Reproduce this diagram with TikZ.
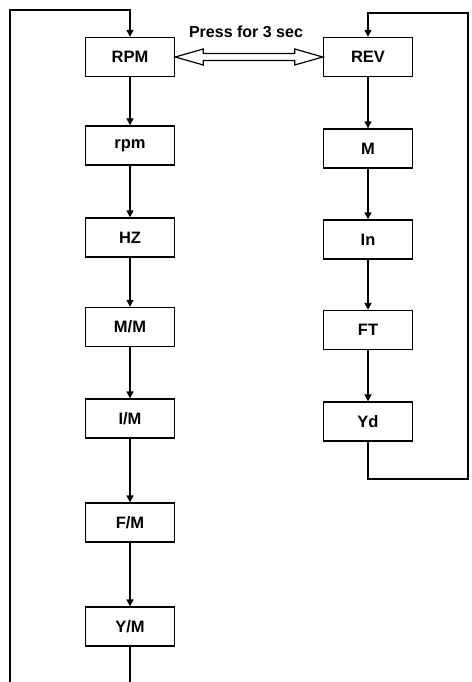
\documentclass[tikz,border=0pt]{standalone}
\usepackage{fontspec}
\setmainfont{Liberation Sans}
\usetikzlibrary{arrows.meta,calc}
\begin{document}
\begin{tikzpicture}[x=1pt,y=-1pt,
  box/.style={draw, line width=1.4pt, minimum width=89pt, minimum height=39pt, inner sep=0pt, font=\fontsize{16.5}{18}\selectfont\bfseries},
  flow/.style={line width=1.4pt, -{Triangle[length=7pt,width=7pt]}},
  plain/.style={line width=1.4pt}]
\useasboundingbox (0,0) rectangle (471,682);
% left column
\node[box] (RPM) at (130,57) {RPM};
\node[box] (rpm) at (130,145.5) {rpm};
\node[box] (HZ) at (130,237.5) {HZ};
\node[box] (MM) at (130,327) {M/M};
\node[box] (IM) at (130,418.5) {I/M};
\node[box] (FM) at (130,522.5) {F/M};
\node[box] (YM) at (130,626.5) {Y/M};
% right column
\node[box] (REV) at (368,57) {REV};
\node[box] (M) at (368,148.5) {M};
\node[box] (In) at (368,239.5) {In};
\node[box] (FT) at (368,330) {FT};
\node[box] (Yd) at (368,421.5) {Yd};
% label
\node[font=\fontsize{16}{18}\selectfont\bfseries] (lbl) at (246,32) {Press for 3 sec};
% left chain
\draw[flow] (RPM) -- (rpm);
\draw[flow] (rpm) -- (HZ);
\draw[flow] (HZ) -- (MM);
\draw[flow] (MM) -- (IM);
\draw[flow] (IM) -- (FM);
\draw[flow] (FM) -- (YM);
% right chain
\draw[flow] (REV) -- (M);
\draw[flow] (M) -- (In);
\draw[flow] (In) -- (FT);
\draw[flow] (FT) -- (Yd);
% left loop
\coordinate (lbot) at (130,683);
\coordinate (lleft) at (10,683);
\coordinate (ltop) at (10,10);
\draw[plain] (YM.south) -- (lbot);
\draw[flow] (lleft) -- (ltop) -| (RPM.north);
% right loop
\coordinate (rbr) at (468,479);
\coordinate (rtr) at (468,13);
\draw[flow] (Yd.south) |- (rbr) -- (rtr) -| (REV.north);
% hollow double arrow
\draw[line width=1.2pt, line join=miter] (RPM.east) -- ++(28,-8) -- ++(0,4.5) -- ($(REV.west)+(-28,-3.5)$) -- ++(0,-4.5) -- (REV.west) -- ++(-28,8) -- ++(0,-4.5) -- ($(RPM.east)+(28,3.5)$) -- ++(0,4.5) -- cycle;
\end{tikzpicture}
\end{document}
